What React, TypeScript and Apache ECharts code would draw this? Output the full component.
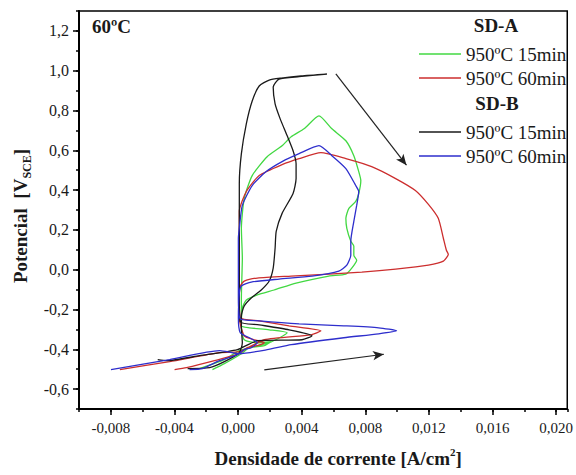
import React, { useEffect, useRef } from "react";
import * as echarts from "echarts";

// Tick labels
const xTickValues = [-0.008, -0.004, 0, 0.004, 0.008, 0.012, 0.016, 0.02];
const yTickValues = [-0.6, -0.4, -0.2, 0, 0.2, 0.4, 0.6, 0.8, 1.0, 1.2];

// Series: [current density A/cm2, potential V_SCE]
// SD-A 950ºC 15min (green)
const sdA15: [number, number][] = [
  [-0.00242, -0.497], [-0.00086, -0.452], [0.00008, -0.407], [0.00196, -0.367],
  [0.00309, -0.317], [0.00196, -0.302], [0.00071, -0.292], [0.00021, -0.282],
  [0.00021, -0.142], [0.00027, 0.058], [0.00021, 0.208], [0.00039, 0.358],
  [0.00089, 0.473], [0.00183, 0.568], [0.00277, 0.623], [0.00334, 0.668],
  [0.00415, 0.708], [0.00509, 0.773], [0.0059, 0.708], [0.00678, 0.648],
  [0.00728, 0.573], [0.00759, 0.493], [0.00772, 0.448], [0.00759, 0.383],
  [0.0074, 0.343], [0.00697, 0.308], [0.00678, 0.258], [0.00684, 0.208],
  [0.00709, 0.143], [0.00728, 0.118], [0.00728, 0.073], [0.00746, 0.048],
  [0.00715, 0.008], [0.00678, -0.022], [0.00571, -0.032], [0.00365, -0.067],
  [0.00227, -0.102], [0.00121, -0.127], [0.00052, -0.152], [0.00027, -0.192],
  [0.00021, -0.292], [0.00039, -0.352], [0.00121, -0.367], [0.00208, -0.362],
  [0.00165, -0.382], [0.00071, -0.392], [0.00021, -0.422], [-0.00086, -0.472],
  [-0.00161, -0.502],
];
// SD-A 950ºC 60min (red)
const sdA60: [number, number][] = [
  [-0.00743, -0.502], [-0.0043, -0.462], [-0.00117, -0.417], [0.00008, -0.412],
  [0.00165, -0.352], [0.00459, -0.327], [0.00521, -0.307], [0.00321, -0.282],
  [0.00133, -0.257], [0.00014, -0.242], [0.00008, -0.142], [0.00008, 0.158],
  [0.00008, 0.293], [0.00052, 0.393], [0.00133, 0.473], [0.00277, 0.528],
  [0.00384, 0.558], [0.00521, 0.588], [0.00678, 0.558], [0.0084, 0.518],
  [0.00991, 0.458], [0.01115, 0.398], [0.01197, 0.328], [0.01259, 0.258],
  [0.01291, 0.158], [0.0131, 0.098], [0.01322, 0.078], [0.01291, 0.043],
  [0.01197, 0.023], [0.00991, 0.003], [0.00778, -0.012], [0.00571, -0.022],
  [0.00334, -0.032], [0.00121, -0.042], [0.00039, -0.057], [0.00014, -0.082],
  [0.00008, -0.142], [0.00008, -0.242], [0.00039, -0.332], [0.00102, -0.352],
  [0.00165, -0.367], [0.00121, -0.382], [0.00058, -0.392], [0.00008, -0.422],
  [-0.00148, -0.457], [-0.00324, -0.492], [-0.00399, -0.502],
];
// SD-B 950ºC 15min (black)
const sdB15: [number, number][] = [
  [-0.00505, -0.452], [-0.00449, -0.457], [-0.00242, -0.432], [-0.00004, -0.402],
  [0.00121, -0.357], [0.00402, -0.352], [0.00465, -0.332], [0.00321, -0.302],
  [0.00133, -0.277], [0.00014, -0.262], [0.00008, -0.142], [0.00008, 0.158],
  [0.00008, 0.433], [0.00021, 0.583], [0.00052, 0.733], [0.00089, 0.848],
  [0.00133, 0.923], [0.00196, 0.953], [0.00271, 0.963], [0.00396, 0.974],
  [0.00559, 0.983], [0.00384, 0.97], [0.00258, 0.958], [0.00221, 0.918],
  [0.00233, 0.833], [0.00265, 0.758], [0.00309, 0.673], [0.00346, 0.598],
  [0.00365, 0.533], [0.00365, 0.458], [0.00346, 0.383], [0.00277, 0.283],
  [0.0024, 0.193], [0.00233, 0.108], [0.00221, 0.008], [0.00196, -0.057],
  [0.00146, -0.102], [0.00083, -0.142], [0.00039, -0.182], [0.00021, -0.232],
  [0.00021, -0.292], [0.00027, -0.367], [0.00008, -0.417], [-0.00086, -0.462],
  [-0.00179, -0.492], [-0.00317, -0.497],
];
// SD-B 950ºC 60min (blue)
const sdB60: [number, number][] = [
  [-0.00799, -0.502], [-0.0043, -0.452], [-0.00117, -0.407], [0.00008, -0.422],
  [0.00183, -0.402], [0.00334, -0.377], [0.00665, -0.342], [0.00884, -0.322],
  [0.00997, -0.307], [0.00884, -0.292], [0.00665, -0.282], [0.00384, -0.272],
  [0.00133, -0.257], [0.00014, -0.247], [0.00002, -0.142], [0.00002, 0.158],
  [0.00008, 0.208], [0.00027, 0.323], [0.00089, 0.423], [0.00177, 0.493],
  [0.00277, 0.543], [0.00384, 0.583], [0.00509, 0.623], [0.0059, 0.573],
  [0.00678, 0.508], [0.0074, 0.423], [0.00759, 0.393], [0.00746, 0.323],
  [0.00728, 0.243], [0.00709, 0.143], [0.00709, 0.073], [0.00684, 0.023],
  [0.00634, -0.007], [0.00465, -0.032], [0.00258, -0.047], [0.00083, -0.062],
  [0.00021, -0.082], [0.00008, -0.117], [0.00002, -0.242], [0.00014, -0.317],
  [0.00071, -0.342], [0.00121, -0.367], [0.00083, -0.392], [0.00039, -0.402],
  [-0.00004, -0.427], [-0.00117, -0.457], [-0.00224, -0.497], [-0.00305, -0.502],
];

// Scan-direction arrows: [start, end]
const arrows: [number, number][][] = [
  [[0.00615, 0.984], [0.01059, 0.525]],
  [[0.00165, -0.503], [0.00917, -0.425]],
];

const legendLabels: Record<string, string> = {
  A15: "950ºC 15min",
  A60: "950ºC 60min",
  B15: "950ºC 15min",
  B60: "950ºC 60min",
};

const FONT = "'Liberation Serif', 'Times New Roman', serif";
const INK = "#1a1a1a";

export default function App() {
  const ref = useRef<HTMLDivElement>(null);

  useEffect(() => {
    if (!ref.current) return;
    const chart = echarts.init(ref.current, null, { renderer: "svg" });

    const fmtX = (v: number) => {
      const s = (Math.abs(v) < 1e-9 ? 0 : v).toFixed(3);
      return s.replace(".", ",");
    };
    const fmtY = (v: number) => {
      const s = (Math.abs(v) < 1e-9 ? 0 : v).toFixed(1);
      return s.replace(".", ",");
    };

    const lineSeries = (id: string, data: [number, number][], color: string, extra: any = {}) => ({
      name: id,
      type: "line",
      data,
      xAxisIndex: 0,
      yAxisIndex: 0,
      symbol: "none",
      showSymbol: false,
      smooth: 0.2,
      lineStyle: { color, width: 1.3 },
      itemStyle: { color },
      emphasis: { disabled: true },
      ...extra,
    });

    const legendBase = {
      orient: "vertical",
      left: 414,
      icon: "rect",
      itemWidth: 42,
      itemHeight: 1.6,
      itemGap: 4,
      selectedMode: false,
      formatter: (n: string) => legendLabels[n] || n,
      textStyle: { fontFamily: FONT, fontSize: 19, color: INK, lineHeight: 20 },
    };

    chart.setOption({
      animation: false,
      backgroundColor: "#fff",
      grid: {
        left: 79,
        top: 11,
        width: 490,
        height: 402,
        show: true,
        borderColor: "#000",
        borderWidth: 1.5,
        containLabel: false,
      },
      xAxis: [
        {
          type: "value",
          min: -0.01,
          max: 0.0207,
          interval: 0.002,
          position: "bottom",
          axisLine: { show: true, onZero: false, lineStyle: { color: "#000", width: 2 } },
          axisTick: { show: true, length: 6, customValues: xTickValues, lineStyle: { color: "#000", width: 1.5 } },
          axisLabel: {
            customValues: xTickValues,
            formatter: fmtX,
            fontFamily: FONT,
            fontSize: 15,
            color: INK,
            margin: 11,
          },
          splitLine: { show: false },
          name: "Densidade de corrente [A/cm{sup|2}]",
          nameLocation: "middle",
          nameGap: 37,
          nameTextStyle: {
            fontFamily: FONT,
            fontSize: 19,
            fontWeight: "bold",
            color: INK,
            lineHeight: 24,
            padding: [0, 0, 0, 30],
            rich: {
              sup: { fontFamily: FONT, fontSize: 11, fontWeight: "bold", color: INK, lineHeight: 14, verticalAlign: "top" },
            },
          },
        },
        {
          type: "value",
          min: -0.01,
          max: 0.0207,
          interval: 0.002,
          position: "bottom",
          axisLine: { show: false, onZero: false },
          axisTick: { show: true, length: 3, lineStyle: { color: "#000", width: 1.5 } },
          axisLabel: { show: false },
          splitLine: { show: false },
        },
      ],
      yAxis: [
        {
          type: "value",
          min: -0.7,
          max: 1.3,
          interval: 0.1,
          position: "left",
          axisLine: { show: true, onZero: false, lineStyle: { color: "#000", width: 2 } },
          axisTick: { show: true, length: 6, customValues: yTickValues, lineStyle: { color: "#000", width: 1.5 } },
          axisLabel: {
            customValues: yTickValues,
            formatter: fmtY,
            fontFamily: FONT,
            fontSize: 16,
            color: INK,
            margin: 10,
          },
          splitLine: { show: false },
          name: "Potencial  [V{sub|SCE}]",
          nameLocation: "middle",
          nameGap: 46,
          nameTextStyle: {
            fontFamily: FONT,
            fontSize: 19,
            fontWeight: "bold",
            color: INK,
            lineHeight: 24,
            padding: [0, 12, 0, 0],
            rich: {
              sub: { fontFamily: FONT, fontSize: 12, fontWeight: "bold", color: INK, lineHeight: 14, verticalAlign: "bottom" },
            },
          },
        },
        {
          type: "value",
          min: -0.7,
          max: 1.3,
          interval: 0.1,
          position: "left",
          axisLine: { show: false, onZero: false },
          axisTick: { show: true, length: 3, lineStyle: { color: "#000", width: 1.5 } },
          axisLabel: { show: false },
          splitLine: { show: false },
        },
      ],
      legend: [
        { ...legendBase, top: 39, data: ["A15", "A60"] },
        { ...legendBase, top: 117, data: ["B15", "B60"] },
      ],
      graphic: [
        {
          type: "text",
          left: 92,
          top: 17,
          style: { text: "60ºC", font: `bold 19px ${FONT}`, fill: INK },
        },
        {
          type: "text",
          x: 496,
          y: 25,
          style: { text: "SD-A", font: `bold 19px ${FONT}`, fill: INK, align: "center", verticalAlign: "middle" },
        },
        {
          type: "text",
          x: 497,
          y: 103,
          style: { text: "SD-B", font: `bold 19px ${FONT}`, fill: INK, align: "center", verticalAlign: "middle" },
        },
      ],
      series: [
        lineSeries("A15", sdA15, "#42d842"),
        lineSeries("A60", sdA60, "#cc2e2e"),
        lineSeries("B15", sdB15, "#1a1a1a", {
          markLine: {
            silent: true,
            symbol: ["none", "arrow"],
            symbolSize: [7, 11],
            label: { show: false },
            lineStyle: { color: "#222", width: 1.2, type: "solid" },
            emphasis: { disabled: true },
            data: arrows.map(([a, b]) => [{ coord: a }, { coord: b }]),
          },
        }),
        lineSeries("B60", sdB60, "#2e2ecc"),
      ],
    });

    return () => chart.dispose();
  }, []);

  return (
    <div
      ref={ref}
      style={{ position: "fixed", left: 0, top: 0, width: 576, height: 475, background: "#fff" }}
    />
  );
}
